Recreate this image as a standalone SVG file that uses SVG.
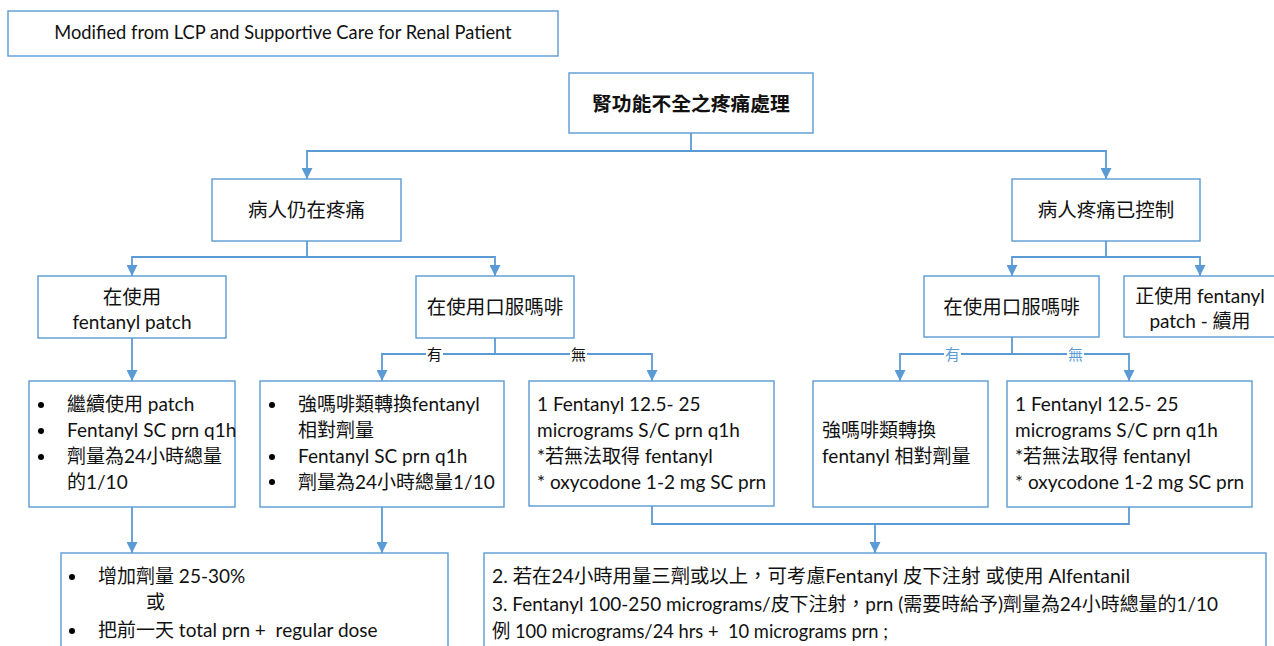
<svg xmlns="http://www.w3.org/2000/svg" width="1274" height="646" viewBox="0 0 1274 646">
<style>
.box{fill:#fff;stroke:#5B9BD5;stroke-width:1.4}
.conn{fill:none;stroke:#5B9BD5;stroke-width:1.8}
text{font-family:Lato,"Noto Sans CJK TC","Noto Sans CJK SC",sans-serif;font-size:19px;fill:#111}
.c{text-anchor:middle}
.b{font-weight:bold;font-size:19.8px}
.lbl{font-size:15px}
.lblb{font-size:15px;fill:#5B9BD5}
.cj{font-size:19.5px}
</style>
<defs>
<marker id="ah" markerUnits="userSpaceOnUse" markerWidth="12" markerHeight="11" refX="11" refY="5.5" orient="auto">
<path d="M0,0 L11,5.5 L0,11 z" fill="#5B9BD5"/>
</marker>
</defs>
<rect width="1274" height="646" fill="#fff"/>

<g id="connectors">
<path class="conn" d="M691,133 V151 H307 V179" marker-end="url(#ah)"/>
<path class="conn" d="M691,151 H1106 V179" marker-end="url(#ah)"/>
<path class="conn" d="M307,241 V257 H132 V276" marker-end="url(#ah)"/>
<path class="conn" d="M307,257 H495 V276" marker-end="url(#ah)"/>
<path class="conn" d="M1106,241 V257 H1012 V276" marker-end="url(#ah)"/>
<path class="conn" d="M1106,257 H1200 V276" marker-end="url(#ah)"/>
<path class="conn" d="M132,338 V381" marker-end="url(#ah)"/>
<path class="conn" d="M495,338 V354 H382 V381" marker-end="url(#ah)"/>
<path class="conn" d="M495,354 H652 V381" marker-end="url(#ah)"/>
<path class="conn" d="M1012,337 V354 H900 V381" marker-end="url(#ah)"/>
<path class="conn" d="M1012,354 H1129 V381" marker-end="url(#ah)"/>
<path class="conn" d="M132,507 V553" marker-end="url(#ah)"/>
<path class="conn" d="M382,507 V553" marker-end="url(#ah)"/>
<path class="conn" d="M652,506 V524 H1129 V507"/>
<path class="conn" d="M875,524 V553" marker-end="url(#ah)"/>
<rect x="426" y="345" width="17" height="18" fill="#fff"/>
<text class="lbl c" x="434.5" y="360">有</text>
<rect x="570" y="345" width="17" height="18" fill="#fff"/>
<text class="lbl c" x="578.5" y="360">無</text>
<rect x="944" y="345" width="17" height="18" fill="#fff"/>
<text class="lblb c" x="952.5" y="360">有</text>
<rect x="1067" y="345" width="17" height="18" fill="#fff"/>
<text class="lblb c" x="1075.5" y="360">無</text>
</g>

<g id="source-note">
<rect class="box" x="8" y="11" width="550" height="45"/>
<text class="c" x="283" y="39" style="font-size:18.3px">Modified from LCP and Supportive Care for Renal Patient</text>
</g>

<g id="root">
<rect class="box" x="569" y="73" width="244" height="60"/>
<text class="c b" x="691" y="111">腎功能不全之疼痛處理</text>
</g>

<g id="still-pain">
<rect class="box" x="212" y="179" width="189" height="62"/>
<text class="c cj" x="306.5" y="217">病人仍在疼痛</text>
</g>

<g id="pain-controlled">
<rect class="box" x="1012" y="179" width="188" height="62"/>
<text class="c cj" x="1106" y="217">病人疼痛已控制</text>
</g>

<g id="using-patch">
<rect class="box" x="38" y="276" width="188" height="62"/>
<text class="c cj" x="132" y="304">在使用</text>
<text class="c" x="132" y="329">fentanyl patch</text>
</g>

<g id="oral-morphine-left">
<rect class="box" x="416" y="276" width="158" height="62"/>
<text class="c cj" x="495" y="314">在使用口服嗎啡</text>
</g>

<g id="oral-morphine-right">
<rect class="box" x="924" y="276" width="175" height="61"/>
<text class="c cj" x="1011.5" y="314">在使用口服嗎啡</text>
</g>

<g id="patch-continue">
<rect class="box" x="1124" y="276" width="160" height="61"/>
<text class="c" x="1200" y="303">正使用 fentanyl</text>
<text class="c" x="1200" y="328">patch - 續用</text>
</g>

<g id="continue-patch">
<rect class="box" x="29" y="381" width="206" height="126"/>
<circle cx="41" cy="405" r="3" fill="#000"/>
<circle cx="41" cy="431" r="3" fill="#000"/>
<circle cx="41" cy="457" r="3" fill="#000"/>
<text x="67" y="411">繼續使用 patch</text>
<text x="67" y="437">Fentanyl SC prn q1h</text>
<text x="67" y="463">劑量為24小時總量</text>
<text x="67" y="489">的1/10</text>
</g>

<g id="convert-left">
<rect class="box" x="260" y="381" width="244" height="126"/>
<circle cx="272" cy="405" r="3" fill="#000"/>
<circle cx="272" cy="457" r="3" fill="#000"/>
<circle cx="272" cy="482" r="3" fill="#000"/>
<text x="298" y="411">強嗎啡類轉換fentanyl</text>
<text x="298" y="437">相對劑量</text>
<text x="298" y="463">Fentanyl SC prn q1h</text>
<text x="298" y="489">劑量為24小時總量1/10</text>
</g>

<g id="fentanyl-sc-left">
<rect class="box" x="529" y="381" width="245" height="125"/>
<text x="537" y="411">1 Fentanyl 12.5- 25</text>
<text x="537" y="437">micrograms S/C prn q1h</text>
<text x="537" y="463">*若無法取得 fentanyl</text>
<text x="537" y="489">* oxycodone 1-2 mg SC prn</text>
</g>

<g id="convert-right">
<rect class="box" x="813" y="381" width="175" height="126"/>
<text x="822" y="437">強嗎啡類轉換</text>
<text x="822" y="463">fentanyl 相對劑量</text>
</g>

<g id="fentanyl-sc-right">
<rect class="box" x="1007" y="381" width="245" height="126"/>
<text x="1015" y="411">1 Fentanyl 12.5- 25</text>
<text x="1015" y="437">micrograms S/C prn q1h</text>
<text x="1015" y="463">*若無法取得 fentanyl</text>
<text x="1015" y="489">* oxycodone 1-2 mg SC prn</text>
</g>

<g id="increase-dose">
<rect class="box" x="61" y="553" width="387" height="110"/>
<circle cx="72" cy="577" r="3" fill="#000"/>
<circle cx="72" cy="631" r="3" fill="#000"/>
<text x="98" y="583">增加劑量 25-30%</text>
<text x="146" y="609">或</text>
<text x="98" y="637">把前一天 total prn +&#160; regular dose</text>
</g>

<g id="notes">
<rect class="box" x="484" y="553" width="782" height="110"/>
<text x="492" y="583" textLength="638" lengthAdjust="spacingAndGlyphs" xml:lang="zh-TW">2. 若在24小時用量三劑或以上，可考慮Fentanyl 皮下注射 或使用 Alfentanil</text>
<text x="492" y="611" textLength="726" lengthAdjust="spacingAndGlyphs" xml:lang="zh-TW">3. Fentanyl 100-250 micrograms/皮下注射，prn (需要時給予)劑量為24小時總量的1/10</text>
<text x="492" y="638" textLength="396" lengthAdjust="spacingAndGlyphs">例 100 micrograms/24 hrs +&#160; 10 micrograms prn ;</text>
</g>
</svg>
